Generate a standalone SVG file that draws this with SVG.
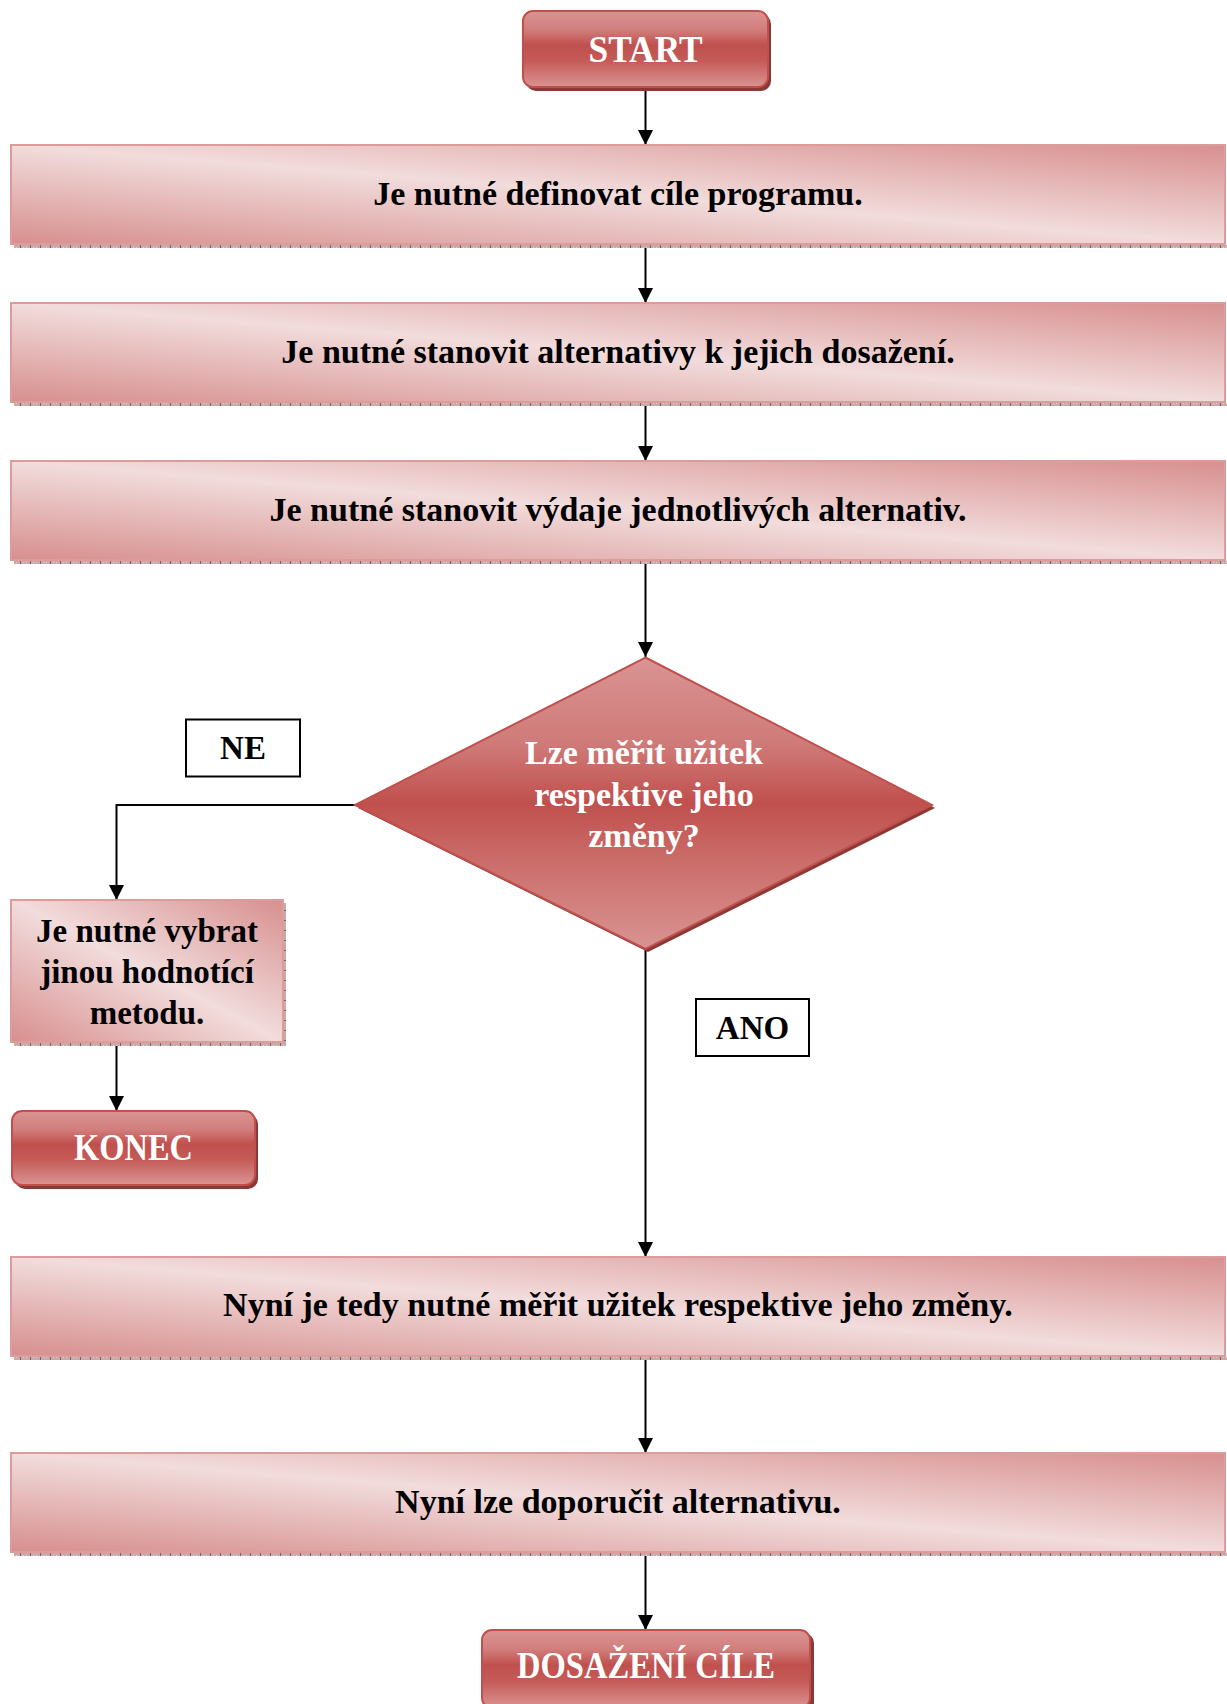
<svg xmlns="http://www.w3.org/2000/svg" width="1227" height="1704" viewBox="0 0 1227 1704">
<defs>
<linearGradient id="boxGrad" x1="0" y1="1" x2="1" y2="0">
<stop offset="0" stop-color="#d78f8e"/>
<stop offset="0.5" stop-color="#f2dcdc"/>
<stop offset="1" stop-color="#d78f8e"/>
</linearGradient>
<linearGradient id="btnGrad" x1="0" y1="0" x2="0" y2="1">
<stop offset="0" stop-color="#da9493"/>
<stop offset="0.25" stop-color="#d17e7c"/>
<stop offset="0.45" stop-color="#c0504d"/>
<stop offset="0.65" stop-color="#c45a57"/>
<stop offset="1" stop-color="#da9493"/>
</linearGradient>
<linearGradient id="diaGrad" x1="0" y1="0" x2="0" y2="1">
<stop offset="0" stop-color="#d99493"/>
<stop offset="0.3" stop-color="#cf7a78"/>
<stop offset="0.5" stop-color="#c0504d"/>
<stop offset="0.7" stop-color="#cb6d6a"/>
<stop offset="1" stop-color="#d99493"/>
</linearGradient>
<pattern id="dotH" width="10" height="3" patternUnits="userSpaceOnUse">
<rect width="10" height="3" fill="#c7abab"/>
<rect x="0" width="1" height="3" fill="#8f5a5a"/>
<rect x="3" y="1" width="1" height="1" fill="#e0d0d0"/>
<rect x="6" y="1" width="1" height="1" fill="#e0d0d0"/>
</pattern>
<pattern id="dotV" width="3" height="10" patternUnits="userSpaceOnUse">
<rect width="3" height="10" fill="#c7abab"/>
<rect y="0" width="3" height="1" fill="#8f5a5a"/>
</pattern>
<marker id="arr" markerUnits="userSpaceOnUse" markerWidth="16" markerHeight="16" refX="15" refY="7.5" orient="auto">
<path d="M0,0 L15,7.5 L0,15 Z" fill="#000"/>
</marker>
<style>
.box{fill:url(#boxGrad);stroke:#dc9c9b;stroke-width:2}
.btn{fill:url(#btnGrad);stroke:#c0504d;stroke-width:2}
.btnsh{fill:#8c3836}
.txt{font-family:"Liberation Serif","Times New Roman",serif;font-weight:bold;font-size:33px;fill:#000;text-anchor:middle}
.big{font-size:34px}
.wtxt{font-family:"Liberation Serif","Times New Roman",serif;font-weight:bold;font-size:34px;fill:#fff;text-anchor:middle}
.btxt{font-family:"Liberation Serif","Times New Roman",serif;font-weight:bold;font-size:38px;fill:#fff;text-anchor:middle}
.lbl{fill:#fff;stroke:#000;stroke-width:2}
.conn{fill:none;stroke:#000;stroke-width:2}
</style>
</defs>

<g id="connectors">
<line class="conn" x1="645.5" y1="88" x2="645.5" y2="145" marker-end="url(#arr)"/>
<line class="conn" x1="645.5" y1="246" x2="645.5" y2="303" marker-end="url(#arr)"/>
<line class="conn" x1="645.5" y1="404" x2="645.5" y2="461" marker-end="url(#arr)"/>
<line class="conn" x1="645.5" y1="563" x2="645.5" y2="657" marker-end="url(#arr)"/>
<polyline class="conn" points="356,805 116.5,805 116.5,900" marker-end="url(#arr)"/>
<line class="conn" x1="116.5" y1="1044" x2="116.5" y2="1111" marker-end="url(#arr)"/>
<line class="conn" x1="645.5" y1="950" x2="645.5" y2="1257" marker-end="url(#arr)"/>
<line class="conn" x1="645.5" y1="1358" x2="645.5" y2="1453" marker-end="url(#arr)"/>
<line class="conn" x1="645.5" y1="1554" x2="645.5" y2="1630" marker-end="url(#arr)"/>
</g>

<g id="start">
<rect class="btnsh" x="526" y="14" width="245" height="77" rx="10"/>
<rect class="btn" x="523" y="11" width="245" height="76" rx="10"/>
<text class="btxt" x="645.5" y="62" textLength="114" lengthAdjust="spacingAndGlyphs">START</text>
</g>

<g id="step1">
<rect x="14" y="245" width="1213" height="3" fill="url(#dotH)"/>
<rect class="box" x="11" y="145" width="1214" height="99"/>
<text class="txt big" x="618" y="205">Je nutné definovat cíle programu.</text>
</g>

<g id="step2">
<rect x="14" y="403" width="1213" height="3" fill="url(#dotH)"/>
<rect class="box" x="11" y="303" width="1214" height="99"/>
<text class="txt big" x="618" y="363">Je nutné stanovit alternativy k jejich dosažení.</text>
</g>

<g id="step3">
<rect x="14" y="561" width="1213" height="3" fill="url(#dotH)"/>
<rect class="box" x="11" y="461" width="1214" height="99"/>
<text class="txt big" x="618" y="521">Je nutné stanovit výdaje jednotlivých alternativ.</text>
</g>

<g id="decision">
<polygon points="648,661 935,808 648,952 358,808" fill="#8c3836"/>
<polygon points="645.5,657.5 932,805 645.5,949 355,805" fill="url(#diaGrad)" stroke="#c0504d" stroke-width="2"/>
<text class="wtxt" x="644" y="764">Lze měřit užitek</text>
<text class="wtxt" x="644" y="806">respektive jeho</text>
<text class="wtxt" x="644" y="847">změny?</text>
</g>

<g id="label-ne">
<rect class="lbl" x="186" y="719.5" width="114" height="57"/>
<text class="txt" x="243" y="759">NE</text>
</g>

<g id="label-ano">
<rect class="lbl" x="696" y="999" width="113" height="57"/>
<text class="txt" x="752.5" y="1039">ANO</text>
</g>

<g id="alt-method">
<rect x="283" y="903" width="3" height="143" fill="url(#dotV)"/>
<rect x="14" y="1043" width="272" height="3" fill="url(#dotH)"/>
<rect class="box" x="11" y="900" width="272" height="142"/>
<text class="txt" x="147" y="942">Je nutné vybrat</text>
<text class="txt" x="147" y="983">jinou hodnotící</text>
<text class="txt" x="147" y="1024">metodu.</text>
</g>

<g id="konec">
<rect class="btnsh" x="15" y="1114" width="243" height="75" rx="10"/>
<rect class="btn" x="12" y="1111" width="243" height="74" rx="10"/>
<text class="btxt" x="133.5" y="1160" textLength="119" lengthAdjust="spacingAndGlyphs">KONEC</text>
</g>

<g id="step4">
<rect x="14" y="1357" width="1213" height="3" fill="url(#dotH)"/>
<rect class="box" x="11" y="1257" width="1214" height="99"/>
<text class="txt big" x="618" y="1316">Nyní je tedy nutné měřit užitek respektive jeho změny.</text>
</g>

<g id="step5">
<rect x="14" y="1553" width="1213" height="3" fill="url(#dotH)"/>
<rect class="box" x="11" y="1453" width="1214" height="99"/>
<text class="txt big" x="618" y="1513">Nyní lze doporučit alternativu.</text>
</g>

<g id="goal">
<rect class="btnsh" x="485" y="1633" width="329" height="80" rx="10"/>
<rect class="btn" x="482" y="1630" width="328" height="78" rx="10"/>
<text class="btxt" x="646" y="1678" textLength="258" lengthAdjust="spacingAndGlyphs">DOSAŽENÍ CÍLE</text>
</g>
</svg>
